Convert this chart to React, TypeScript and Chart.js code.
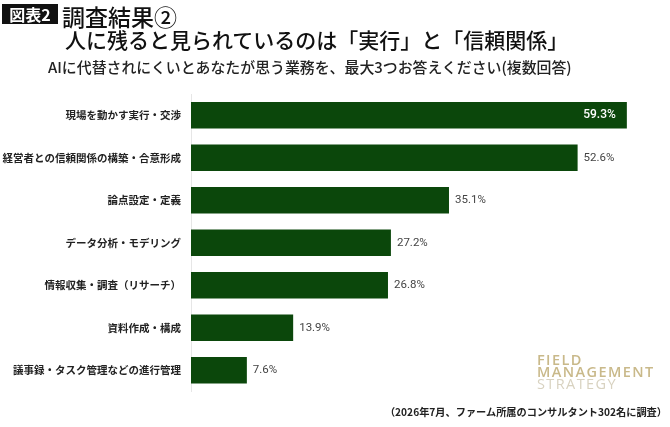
import React, { useEffect, useRef } from 'react'
import Chart from 'chart.js/auto'

const categories = [
  '現場を動かす実行・交渉',
  '経営者との信頼関係の構築・合意形成',
  '論点設定・定義',
  'データ分析・モデリング',
  '情報収集・調査（リサーチ）',
  '資料作成・構成',
  '議事録・タスク管理などの進行管理',
]
const shares = [59.3, 52.6, 35.1, 27.2, 26.8, 13.9, 7.6]

const BAR_COLOR = '#0b470b'
const JP_FONT = '"Noto Sans CJK JP", "Noto Sans", sans-serif'

// value labels: inside (white) for the longest bar, outside (gray) for the rest
const valueLabels = {
  id: 'valueLabels',
  afterDatasetsDraw(chart: any) {
    const { ctx } = chart
    const meta = chart.getDatasetMeta(0)
    const top = Math.max(...shares)
    ctx.save()
    ctx.textBaseline = 'middle'
    meta.data.forEach((bar: any, i: number) => {
      const text = shares[i].toFixed(1) + '%'
      if (shares[i] === top) {
        ctx.font = '500 12px Roboto, sans-serif'
        ctx.fillStyle = '#ffffff'
        ctx.textAlign = 'right'
        ctx.fillText(text, bar.x - 11, bar.y)
      } else {
        ctx.font = '11.5px Roboto, sans-serif'
        ctx.fillStyle = '#444444'
        ctx.textAlign = 'left'
        ctx.fillText(text, bar.x + 6, bar.y)
      }
    })
    ctx.restore()
  },
}

const BarChart = () => {
  const chartRef = useRef<HTMLCanvasElement | null>(null)

  useEffect(() => {
    if (!chartRef.current) return
    const chart = new Chart(chartRef.current, {
      type: 'bar',
      data: {
        labels: categories,
        datasets: [
          {
            data: shares,
            backgroundColor: BAR_COLOR,
            borderWidth: 0,
            categoryPercentage: 1,
            barPercentage: 0.625,
          },
        ],
      },
      options: {
        indexAxis: 'y',
        animation: false,
        responsive: false,
        maintainAspectRatio: false,
        layout: { padding: { top: 94, bottom: 35.5, right: 38, left: 0 } },
        plugins: {
          legend: { display: false },
          tooltip: { enabled: false },
        },
        scales: {
          x: {
            min: 0,
            max: 60,
            display: false,
          },
          y: {
            grid: { display: false, drawTicks: false },
            border: { display: true, color: '#e6e6e6', width: 1 },
            ticks: {
              padding: 10,
              color: '#222222',
              font: { family: JP_FONT, size: 10.5, weight: 'bold' },
            },
            afterFit: (scale: any) => {
              scale.width = 191
            },
          },
        },
      },
      plugins: [valueLabels],
    })

    // Cleanup on component unmount
    return () => chart.destroy()
  }, [])

  return <canvas ref={chartRef} width={670} height={427} style={{ position: 'absolute', left: 0, top: 0 }} />
}

const abs = (style: React.CSSProperties): React.CSSProperties => ({
  position: 'absolute',
  whiteSpace: 'nowrap',
  margin: 0,
  ...style,
})

const LOGO_FONT = '"Open Sans", "DejaVu Sans", sans-serif'

const App = () => {
  return (
    <div
      style={{
        position: 'fixed',
        left: 0,
        top: 0,
        width: 670,
        height: 427,
        background: '#ffffff',
        overflow: 'hidden',
        fontFamily: JP_FONT,
      }}
    >
      <BarChart />
      <div
        style={abs({
          left: 2,
          top: 4,
          width: 56,
          height: 20,
          background: '#111111',
          color: '#ffffff',
          fontSize: 16,
          fontWeight: 700,
          lineHeight: '20px',
          textAlign: 'center',
        })}
      >
        図表2
      </div>
      <div style={abs({ left: 62, top: 4, fontSize: 23, lineHeight: '24px', fontWeight: 500, color: '#111' })}>
        調査結果②
      </div>
      <div style={abs({ left: 65, top: 28, fontSize: 21, lineHeight: '22px', fontWeight: 500, color: '#111' })}>
        人に残ると見られているのは「実行」と「信頼関係」
      </div>
      <div style={abs({ left: 48, top: 59, fontSize: 14.9, lineHeight: '16px', fontWeight: 500, color: '#222' })}>
        AIに代替されにくいとあなたが思う業務を、最大3つお答えください(複数回答)
      </div>
      <div
        style={abs({
          left: 537,
          top: 354,
          fontFamily: LOGO_FONT,
          fontSize: 14.5,
          lineHeight: '12px',
          letterSpacing: 1.4,
        })}
      >
        <div style={{ fontFamily: LOGO_FONT, color: '#c9b98a', fontWeight: 600 }}>FIELD</div>
        <div style={{ fontFamily: LOGO_FONT, color: '#c9b98a', fontWeight: 600 }}>MANAGEMENT</div>
        <div style={{ fontFamily: LOGO_FONT, color: '#d8d2c0', fontWeight: 400 }}>STRATEGY</div>
      </div>
      <div
        style={abs({
          right: 3,
          top: 405,
          fontSize: 10.2,
          lineHeight: '13px',
          fontWeight: 700,
          color: '#222',
          textAlign: 'right',
        })}
      >
        （2026年7月、ファーム所属のコンサルタント302名に調査）
      </div>
    </div>
  )
}

export default App
